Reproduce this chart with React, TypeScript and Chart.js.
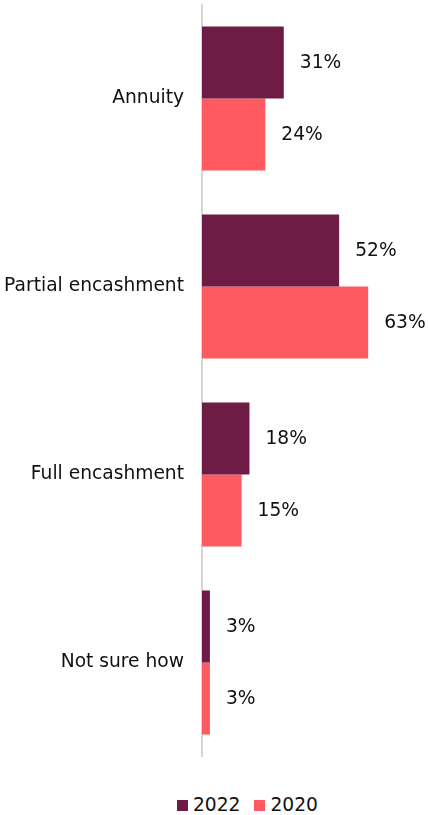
import React, { useEffect, useRef } from "react";
import { Chart, registerables } from "chart.js";

Chart.register(...registerables);

const categories = ["Annuity", "Partial encashment", "Full encashment", "Not sure how"];
const seriesNames = ["2022", "2020"];
const values2022 = [31, 52, 18, 3];
const values2020 = [24, 63, 15, 3];
const seriesColors = ["#6E1B45", "#FF5A5F"];

const FONT = "'DejaVu Sans', Verdana, sans-serif";
const FONT_SIZE = 18.67;
const TEXT_COLOR = "#111111";

const valueLabelPlugin = {
  id: "valueLabels",
  afterDatasetsDraw(chart: any) {
    const ctx = chart.ctx;
    ctx.save();
    ctx.font = `${FONT_SIZE}px ${FONT}`;
    ctx.fillStyle = TEXT_COLOR;
    ctx.textAlign = "left";
    ctx.textBaseline = "middle";
    chart.data.datasets.forEach((ds: any, di: number) => {
      const meta = chart.getDatasetMeta(di);
      meta.data.forEach((bar: any, i: number) => {
        ctx.fillText(`${ds.data[i]}%`, bar.x + 16, bar.y + 1);
      });
    });
    ctx.restore();
  },
};

export default function App() {
  const canvasRef = useRef<HTMLCanvasElement | null>(null);

  useEffect(() => {
    document.body.style.margin = "0";
    const chart = new Chart(canvasRef.current as HTMLCanvasElement, {
      type: "bar",
      data: {
        labels: categories,
        datasets: [
          {
            label: seriesNames[0],
            data: values2022,
            backgroundColor: seriesColors[0],
            categoryPercentage: 0.766,
            barPercentage: 1,
          },
          {
            label: seriesNames[1],
            data: values2020,
            backgroundColor: seriesColors[1],
            categoryPercentage: 0.766,
            barPercentage: 1,
          },
        ],
      },
      options: {
        indexAxis: "y",
        animation: false,
        responsive: true,
        maintainAspectRatio: false,
        layout: { padding: { top: 4.5, bottom: 3.5, left: 0, right: 16 } },
        plugins: {
          legend: { display: false },
          tooltip: { enabled: false },
        },
        scales: {
          x: {
            display: false,
            min: 0,
            max: 80,
          },
          y: {
            grid: { display: false, drawTicks: false },
            border: { display: true, color: "#d6d6d6", width: 2 },
            ticks: {
              padding: 18,
              color: TEXT_COLOR,
              font: { family: FONT, size: FONT_SIZE },
            },
            afterFit(scale: any) {
              scale.width = 202;
              scale.paddingTop = 0;
              scale.paddingBottom = 0;
            },
          },
        },
      },
      plugins: [valueLabelPlugin],
    });
    return () => chart.destroy();
  }, []);

  const legendItem = (name: string, color: string, first: boolean) => (
    <div
      key={name}
      style={{ display: "flex", alignItems: "center", marginLeft: first ? 0 : 14 }}
    >
      <span style={{ display: "inline-block", width: 11, height: 11, background: color, marginRight: 5 }} />
      <span style={{ fontFamily: FONT, fontSize: FONT_SIZE, color: TEXT_COLOR, lineHeight: 1 }}>{name}</span>
    </div>
  );

  return (
    <div style={{ position: "fixed", left: 0, top: 0, width: 429, height: 815, background: "#fff" }}>
      <div style={{ position: "absolute", left: 0, top: 0, width: 429, height: 760 }}>
        <canvas ref={canvasRef} />
      </div>
      <div style={{ position: "absolute", left: 177, top: 796, display: "flex", alignItems: "center" }}>
        {seriesNames.map((n, i) => legendItem(n, seriesColors[i], i === 0))}
      </div>
    </div>
  );
}
